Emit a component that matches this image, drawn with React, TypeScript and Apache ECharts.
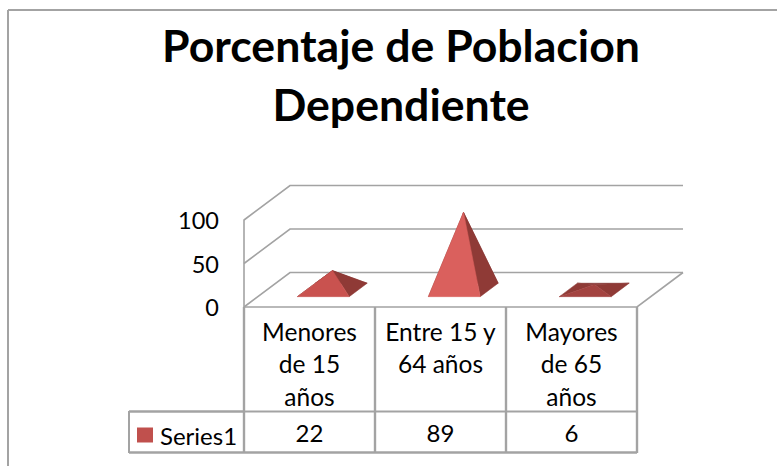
import React, { useEffect, useRef } from "react";
import * as echarts from "echarts";

const categories = ["Menores\nde 15\naños", "Entre 15 y\n64 años", "Mayores\nde 65\naños"];
const seriesValues = [22, 89, 6];
const yTicks = [0, 50, 100];
const seriesName = "Series1";
const titleText = "Porcentaje de Poblacion\nDependiente";

const FONT = "Lato, 'Open Sans', sans-serif";
const LINE = "#a3a3a3";
const DEPTH_X = 46;
const DEPTH_Y = 34.5;

function project(p: number[], d: number) {
  return [p[0] + DEPTH_X * d, p[1] - DEPTH_Y * d];
}

function frontShade(v: number) {
  if (v < 10) return "#a34340";
  if (v < 50) return "#c9524f";
  return "#da605d";
}

function renderPyramid(_: any, api: any) {
  const idx = api.value(0);
  const v = api.value(1);
  const c0 = api.coord([idx, 0]);
  const top = api.coord([idx, v]);
  const half = api.size([1, 0])[0] * 0.198;
  const fl = project([c0[0] - half, c0[1]], 0.3);
  const fr = project([c0[0] + half, c0[1]], 0.3);
  const bl = project([c0[0] - half, c0[1]], 0.69);
  const br = project([c0[0] + half, c0[1]], 0.69);
  const apex = project(top, 0.5);
  const face = (pts: number[][], fill: string) => ({
    type: "polygon",
    shape: { points: pts },
    style: { fill, stroke: fill, lineWidth: 0.5 },
  });
  return {
    type: "group",
    children: [
      face([bl, br, apex], "#7f2f2d"),
      face([fl, bl, apex], "#8f3a36"),
      face([fr, br, apex], "#8f3a36"),
      face([fl, fr, apex], frontShade(v)),
    ],
  };
}

function renderWall(params: any, api: any) {
  const v = api.value(1);
  const cs = params.coordSys;
  const y = api.coord([0, v])[1];
  const left = [cs.x, y];
  const right = [cs.x + cs.width, y];
  const style = { stroke: LINE, lineWidth: 1.6, fill: "none" };
  const children: any[] = [
    { type: "polyline", shape: { points: [left, project(left, 1), project(right, 1)] }, style },
  ];
  if (v === 0) {
    children.push({ type: "polyline", shape: { points: [left, right, project(right, 1)] }, style });
  }
  return { type: "group", children };
}

const hLine = (x1: number, x2: number, y: number, w = 2) => ({
  type: "line",
  shape: { x1, y1: y, x2, y2: y },
  style: { stroke: LINE, lineWidth: w },
  silent: true,
});
const vLine = (x: number, y1: number, y2: number, w = 2) => ({
  type: "line",
  shape: { x1: x, y1, x2: x, y2 },
  style: { stroke: LINE, lineWidth: w },
  silent: true,
});

export default function App() {
  const ref = useRef<HTMLDivElement>(null);
  useEffect(() => {
    const chart = echarts.init(ref.current!, null, { renderer: "svg" });
    chart.setOption({
      animation: false,
      backgroundColor: "#ffffff",
      title: {
        text: titleText,
        left: 396,
        top: 10,
        textAlign: "center",
        textStyle: { fontFamily: FONT, fontWeight: "bold", fontSize: 44.6, lineHeight: 59, color: "#000" },
      },
      legend: {
        data: [seriesName],
        left: 137,
        top: 423,
        icon: "rect",
        itemWidth: 16,
        itemHeight: 15,
        itemGap: 0,
        padding: 0,
        textStyle: { fontFamily: FONT, fontSize: 24, color: "#000", padding: [0, 0, 0, 2] },
      },
      grid: { left: 244, top: 220, width: 393, height: 87 },
      xAxis: [
        {
          type: "category",
          data: categories,
          position: "bottom",
          axisLine: { show: false },
          axisTick: { show: false },
          axisLabel: {
            margin: 8,
            interval: 0,
            fontFamily: FONT,
            fontSize: 24.5,
            lineHeight: 32.5,
            color: "#000",
            verticalAlign: "top",
          },
        },
        {
          type: "category",
          data: seriesValues.map(String),
          position: "bottom",
          axisLine: { show: false },
          axisTick: { show: false },
          axisLabel: {
            margin: 113,
            interval: 0,
            fontFamily: FONT,
            fontSize: 24,
            color: "#000",
            verticalAlign: "top",
          },
        },
      ],
      yAxis: {
        type: "value",
        min: 0,
        max: 100,
        interval: 50,
        axisLine: { show: true, lineStyle: { color: LINE, width: 1.6 } },
        axisTick: { show: false },
        splitLine: { show: false },
        axisLabel: { margin: 25, fontFamily: FONT, fontSize: 23.5, color: "#000" },
      },
      series: [
        {
          type: "custom",
          silent: true,
          clip: false,
          renderItem: renderWall,
          data: yTicks.map((t) => [0, t]),
          encode: { x: 0, y: 1 },
          z: 1,
        },
        {
          type: "custom",
          name: seriesName,
          silent: true,
          clip: false,
          itemStyle: { color: "#c0504d" },
          renderItem: renderPyramid,
          data: seriesValues.map((v, i) => [i, v]),
          encode: { x: 0, y: 1 },
          z: 2,
        },
      ],
      graphic: [
        hLine(8, 777, 10),
        vLine(8, 10, 466),
        hLine(244, 637, 411.5),
        hLine(129, 637, 452.5, 2.4),
        hLine(129, 244, 411.5, 2.4),
        vLine(129, 411, 453),
        vLine(244, 307, 453, 2.4),
        vLine(375, 307, 453, 2.4),
        vLine(506, 307, 453, 2.4),
        vLine(637, 307, 453, 2.4),
      ],
    });
    return () => chart.dispose();
  }, []);
  return <div ref={ref} style={{ position: "fixed", left: 0, top: 0, width: 777, height: 466 }} />;
}
